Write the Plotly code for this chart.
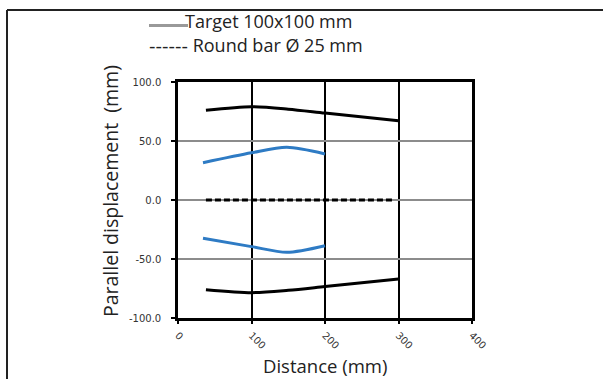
import plotly.graph_objects as go

# Target displacement envelope (black), upper and lower branches
target_x = [38, 100, 150, 200, 300]
target_upper = [76.0, 79.0, 77.0, 73.7, 67.2]
target_lower = [-76.0, -78.5, -76.5, -73.4, -67.0]

# Round bar path (blue), upper and lower branches
bar_x = [34, 100, 148, 200]
bar_upper = [31.6, 40.0, 44.6, 39.0]
bar_lower = [-32.5, -39.5, -44.3, -38.7]

# Centre line (dashed)
centre_x = [38, 100, 200, 295]
centre_y = [0.0, 0.0, 0.0, 0.0]

x_ticks = [0, 100, 200, 300, 400]
y_ticks = [-100, -50, 0, 50, 100]
y_tick_labels = ["-100.0", "-50.0", "0.0", "50.0", "100.0"]

BLACK = "#000000"
BLUE = "#2E7BC4"

fig = go.Figure()
for ys in (target_upper, target_lower):
    fig.add_trace(go.Scatter(x=target_x, y=ys, mode="lines",
                             line=dict(color=BLACK, width=3, shape="spline", smoothing=0.8),
                             showlegend=False, hoverinfo="skip"))
for ys in (bar_upper, bar_lower):
    fig.add_trace(go.Scatter(x=bar_x, y=ys, mode="lines",
                             line=dict(color=BLUE, width=3, shape="spline", smoothing=0.8),
                             showlegend=False, hoverinfo="skip"))
fig.add_trace(go.Scatter(x=centre_x, y=centre_y, mode="lines",
                         line=dict(color=BLACK, width=3, dash="6px,3px"),
                         showlegend=False, hoverinfo="skip"))

# plot area: x 178..472 px, y 82..318 px
L, R, T, B = 178, 131, 82, 61
W, H = 603 - L - R, 379 - T - B

def px(x):
    return (x - L) / W

def py(y):
    return (379 - B - y) / H

FAMILY = "Open Sans, Noto Sans, sans-serif"
axis_title_font = dict(family=FAMILY, size=19.5, color="#222")
legend_font = dict(family=FAMILY, size=18, color="#222")
tick_font = dict(family="DejaVu Sans", size=10, color="#333")

fig.update_layout(
    width=603, height=379,
    margin=dict(l=L, r=R, t=T, b=B),
    paper_bgcolor="white", plot_bgcolor="white",
    showlegend=False,
    xaxis=dict(range=[0, 400], tickvals=x_ticks, ticktext=[str(v) for v in x_ticks],
               tickangle=45, tickfont=tick_font, ticklabelstandoff=2,
               showgrid=True, gridcolor=BLACK, gridwidth=1.5,
               showline=True, linecolor=BLACK, linewidth=2.5, mirror=True,
               ticks="outside", ticklen=3, tickcolor=BLACK, tickwidth=2,
               zeroline=False, fixedrange=True),
    yaxis=dict(range=[-100, 100], tickvals=y_ticks, ticktext=y_tick_labels,
               tickfont=tick_font, ticklabelstandoff=8,
               showgrid=True, gridcolor="#8c8c8c", gridwidth=1.5,
               showline=True, linecolor=BLACK, linewidth=2.5, mirror=True,
               ticks="outside", ticklen=4, tickcolor=BLACK, tickwidth=2,
               zeroline=False, fixedrange=True),
    annotations=[
        dict(text="Parallel displacement  (mm)", xref="paper", yref="paper",
             x=px(110), y=0.538, textangle=-90, showarrow=False,
             xanchor="center", yanchor="middle", font=axis_title_font),
        dict(text="Distance (mm)", xref="paper", yref="paper",
             x=px(325), y=py(365), showarrow=False, borderpad=0,
             xanchor="center", yanchor="middle",
             font=dict(family=FAMILY, size=18.5, color="#222")),
        dict(text="Target 100x100 mm", xref="paper", yref="paper",
             x=px(183), y=py(21), showarrow=False,
             xanchor="left", yanchor="middle", font=legend_font),
        dict(text='<span style="font-family:DejaVu Sans">------</span> Round bar Ø 25 mm',
             xref="paper", yref="paper",
             x=px(147), y=py(45), showarrow=False,
             xanchor="left", yanchor="middle", font=legend_font),
    ],
    shapes=[
        # legend sample for the target line
        dict(type="line", xref="paper", yref="paper",
             x0=px(149), x1=px(188), y0=py(25.5), y1=py(25.5),
             line=dict(color="#999999", width=3)),
        # outer frame (top and left edges)
        dict(type="line", xref="paper", yref="paper",
             x0=px(7), x1=px(603), y0=py(10), y1=py(10),
             line=dict(color="#222", width=2)),
        dict(type="line", xref="paper", yref="paper",
             x0=px(7), x1=px(7), y0=py(10), y1=py(379),
             line=dict(color="#222", width=2)),
    ],
)

fig.write_html("out.html")
